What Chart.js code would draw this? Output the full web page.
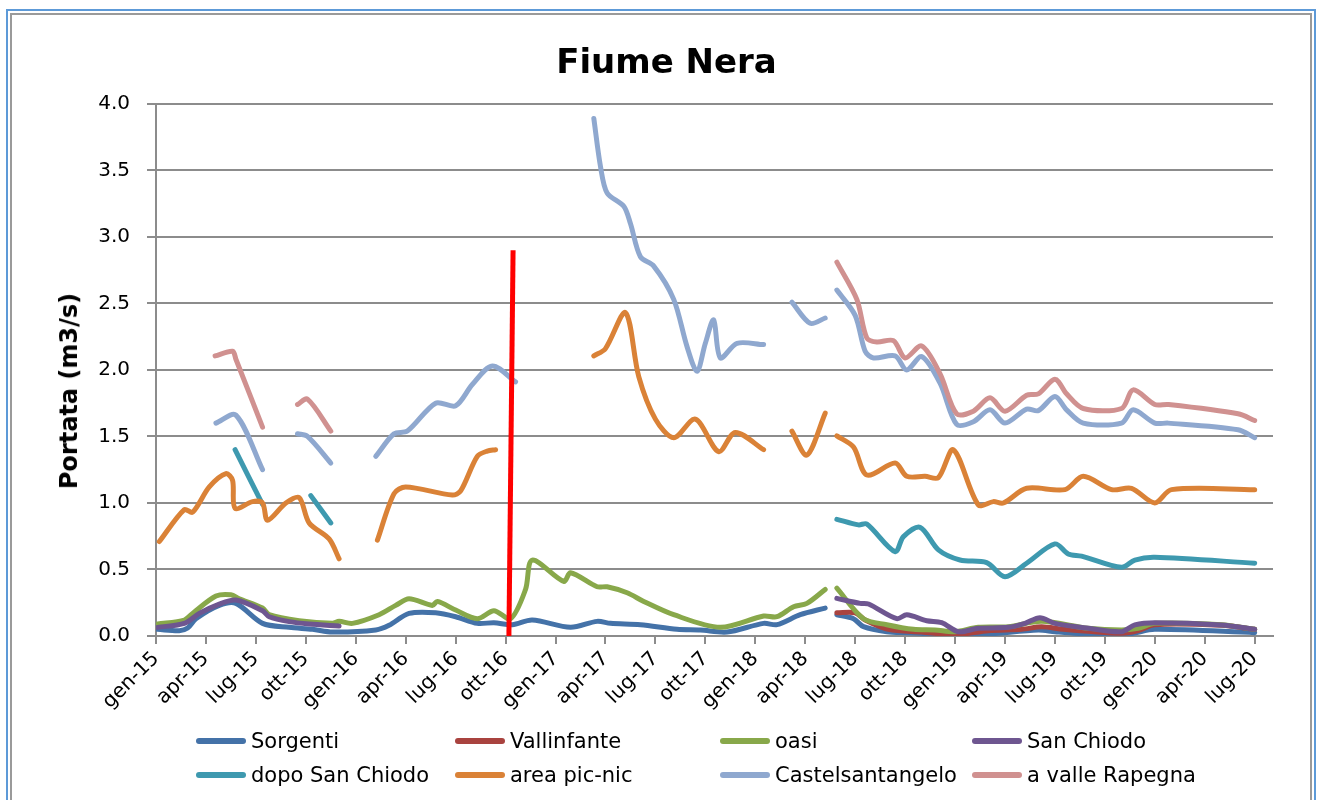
<!DOCTYPE html>
<html lang="it">
<head>
<meta charset="utf-8">
<title>Fiume Nera</title>
<script src="https://cdn.jsdelivr.net/npm/chart.js@4.4.1/dist/chart.umd.min.js"></script>
<style>
    html, body { margin: 0; padding: 0; background: #fff; }
    body { width: 1320px; height: 800px; position: relative; overflow: hidden; font-family: 'DejaVu Sans', sans-serif; }
    .frame-outer { position: absolute; left: 6px; top: 9px; width: 1310px; height: 820px; border: 2px solid #5d9ad8; box-sizing: border-box; }
    .frame-inner { position: absolute; left: 10px; top: 13px; width: 1302px; height: 820px; border: 2px solid #9a9a9a; box-sizing: border-box; }
    #chart { position: absolute; left: 0; top: 0; }
    .y-title { position: absolute; left: 69px; top: 391px; transform: translate(-50%, -50%) rotate(-90deg); font-size: 24px; font-weight: bold; white-space: nowrap; color: #000; }
    .legend-item { position: absolute; display: flex; align-items: center; height: 30px; font-size: 21px; color: #000; white-space: nowrap; }
    .legend-item i { display: block; width: 50px; height: 6px; border-radius: 3px; margin-right: 5px; }
</style>
</head>
<body>
<div class="frame-outer"></div>
<div class="frame-inner"></div>
<canvas id="chart" width="1320" height="800"></canvas>
<div class="y-title">Portata (m3/s)</div>
<div id="legend"></div>

<script>
/* DATA — x = months since gen-15, y = portata (m3/s), null = no measurement */

const tickLabels = ['gen-15', 'apr-15', 'lug-15', 'ott-15', 'gen-16', 'apr-16', 'lug-16', 'ott-16',
    'gen-17', 'apr-17', 'lug-17', 'ott-17', 'gen-18', 'apr-18', 'lug-18', 'ott-18',
    'gen-19', 'apr-19', 'lug-19', 'ott-19', 'gen-20', 'apr-20', 'lug-20']

const sorgenti = [
    [0.1, 0.05], [1.4, 0.04], [1.9, 0.06], [2.4, 0.13], [3.8, 0.23], [4.8, 0.245], [6.4, 0.095],
    [8.0, 0.065], [9.4, 0.05], [10.6, 0.03], [13.2, 0.045], [14.0, 0.08], [15.2, 0.17], [16.8, 0.175],
    [18.0, 0.145], [19.3, 0.095], [20.3, 0.1], [21.4, 0.085], [22.6, 0.12], [24.9, 0.065], [26.5, 0.11],
    [27.3, 0.095], [29.1, 0.085], [31.3, 0.05], [32.7, 0.045], [34.3, 0.03], [36.5, 0.095], [37.3, 0.085],
    [38.7, 0.16], [40.2, 0.21], [40.5, null],
    [40.9, 0.16], [41.9, 0.13], [42.5, 0.07], [43.9, 0.032], [45.2, 0.025], [46.6, 0.015], [48.0, 0.008],
    [50.0, 0.015], [53.0, 0.045], [54.0, 0.032], [56.0, 0.015], [58.4, 0.015], [60.0, 0.05], [66.0, 0.025]
]

const vallinfante = [
    [40.9, 0.175], [42.0, 0.175], [42.6, 0.12], [44.0, 0.05], [46.0, 0.03], [48.0, 0.01], [50.0, 0.04],
    [52.0, 0.05], [53.2, 0.07], [54.5, 0.05], [56.0, 0.035], [58.0, 0.02], [59.0, 0.04], [60.0, 0.085],
    [64.0, 0.08], [66.0, 0.05]
]

const oasi = [
    [0.1, 0.09], [1.7, 0.12], [2.2, 0.17], [3.6, 0.3], [4.5, 0.31], [5.0, 0.28], [6.4, 0.21], [6.8, 0.16],
    [8.6, 0.115], [10.6, 0.095], [11.0, 0.11], [11.8, 0.095], [13.4, 0.16], [14.4, 0.23], [15.2, 0.28],
    [16.6, 0.23], [16.9, 0.26], [18.0, 0.195], [19.3, 0.13], [20.3, 0.19], [21.3, 0.13], [22.2, 0.35],
    [22.6, 0.57], [24.5, 0.41], [24.9, 0.475], [26.5, 0.37], [27.1, 0.37], [28.3, 0.325], [29.3, 0.26],
    [31.1, 0.16], [33.9, 0.065], [36.5, 0.15], [37.3, 0.145], [38.3, 0.22], [39.1, 0.245], [40.2, 0.35],
    [40.5, null],
    [40.9, 0.36], [42.5, 0.13], [43.9, 0.085], [45.5, 0.05], [46.8, 0.045], [48.0, 0.032], [49.4, 0.065],
    [51.2, 0.07], [53.2, 0.11], [56.0, 0.058], [58.0, 0.045], [59.0, 0.058], [60.0, 0.095], [64.0, 0.085],
    [66.0, 0.05]
]

const sanChiodo = [
    [0.1, 0.065], [1.7, 0.095], [2.6, 0.17], [3.8, 0.24], [4.8, 0.27], [6.4, 0.19], [6.8, 0.145],
    [8.0, 0.108], [9.2, 0.09], [11.0, 0.075], [12.0, null],
    [40.9, 0.283], [42.3, 0.245], [42.8, 0.24], [44.5, 0.13], [45.1, 0.16], [46.3, 0.115], [47.2, 0.1],
    [48.2, 0.032], [49.4, 0.058], [51.2, 0.065], [52.2, 0.095], [53.1, 0.138], [54.0, 0.095], [56.0, 0.058],
    [58.0, 0.032], [58.8, 0.083], [60.0, 0.1], [64.0, 0.083], [66.0, 0.05]
]

const dopoSanChiodo = [
    [4.75, 1.4], [6.4, 0.99], [8.0, null],
    [9.3, 1.055], [10.5, 0.85], [12.0, null],
    [40.9, 0.877], [42.2, 0.835], [42.7, 0.842], [44.4, 0.634], [44.9, 0.747], [45.9, 0.817], [47.0, 0.647],
    [48.3, 0.571], [49.9, 0.551], [51.0, 0.446], [52.3, 0.547], [54.0, 0.692], [54.8, 0.617], [55.6, 0.6],
    [58.0, 0.516], [58.8, 0.571], [60.0, 0.592], [66.0, 0.547]
]

const areaPicNic = [
    [0.2, 0.71], [1.7, 0.95], [2.2, 0.93], [3.2, 1.12], [4.2, 1.22], [4.6, 1.17], [4.75, 0.96], [5.8, 1.01],
    [6.4, 1.0], [6.7, 0.87], [7.8, 1.0], [8.6, 1.04], [9.2, 0.85], [10.4, 0.73], [11.0, 0.58], [12.0, null],
    [13.3, 0.72], [14.3, 1.07], [15.0, 1.12], [17.8, 1.06], [18.3, 1.09], [19.3, 1.35], [19.9, 1.39],
    [20.4, 1.4], [23.0, null],
    [26.3, 2.105], [27.0, 2.16], [28.2, 2.43], [29.0, 1.95], [30.0, 1.63], [31.1, 1.49], [32.4, 1.63],
    [33.8, 1.386], [34.8, 1.53], [36.5, 1.4], [37.3, null],
    [38.2, 1.54], [39.1, 1.36], [40.2, 1.675], [40.5, null],
    [40.9, 1.504], [41.9, 1.42], [42.7, 1.21], [44.4, 1.3], [45.1, 1.2], [46.2, 1.2], [47.0, 1.19],
    [47.9, 1.4], [49.4, 0.985], [50.3, 1.01], [50.9, 1.0], [52.3, 1.11], [54.6, 1.1], [55.7, 1.2],
    [57.4, 1.1], [58.6, 1.11], [60.0, 1.0], [61.0, 1.1], [66.0, 1.1]
]

const castelsantangelo = [
    [3.6, 1.6], [4.8, 1.66], [6.4, 1.25], [7.5, null],
    [8.5, 1.52], [9.1, 1.5], [10.5, 1.3], [12.0, null],
    [13.2, 1.35], [14.3, 1.52], [15.1, 1.54], [16.8, 1.75], [18.0, 1.73], [19.0, 1.89], [20.2, 2.03],
    [21.6, 1.91], [23.0, null],
    [26.3, 3.89], [26.7, 3.53], [27.1, 3.33], [28.1, 3.23], [28.5, 3.1], [29.1, 2.85], [29.9, 2.78],
    [31.1, 2.53], [31.9, 2.175], [32.5, 1.99], [33.0, 2.2], [33.5, 2.376], [33.9, 2.09], [34.9, 2.2],
    [36.5, 2.19], [37.3, null],
    [38.2, 2.51], [39.3, 2.35], [40.2, 2.39], [40.5, null],
    [40.9, 2.6], [42.0, 2.41], [42.6, 2.14], [43.1, 2.09], [44.4, 2.105], [45.1, 2.0], [46.0, 2.1],
    [47.1, 1.9], [48.1, 1.59], [49.1, 1.61], [50.1, 1.7], [51.0, 1.6], [52.3, 1.705], [53.0, 1.694],
    [54.0, 1.8], [54.7, 1.7], [55.7, 1.6], [58.0, 1.6], [58.7, 1.7], [60.0, 1.6], [60.8, 1.6],
    [65.0, 1.55], [66.0, 1.49]
]

const valleRapegna = [
    [3.55, 2.105], [4.6, 2.14], [4.8, 2.08], [6.4, 1.57], [7.5, null],
    [8.5, 1.74], [9.1, 1.78], [10.5, 1.54], [12.0, null],
    [40.9, 2.81], [42.1, 2.53], [42.7, 2.24], [43.3, 2.21], [44.3, 2.22], [45.0, 2.09], [46.0, 2.18],
    [47.1, 1.97], [48.1, 1.67], [49.1, 1.69], [50.1, 1.79], [51.0, 1.69], [52.3, 1.81], [53.0, 1.82],
    [54.0, 1.93], [54.7, 1.82], [55.7, 1.71], [58.0, 1.71], [58.7, 1.85], [60.0, 1.74], [60.8, 1.74],
    [65.0, 1.67], [66.0, 1.62]
]

// red marker line (sisma, ott-16)
const sismaLine = [[21.2, 0], [21.45, 2.9]]

const seriesNames = ['Sorgenti', 'Vallinfante', 'oasi', 'San Chiodo',
    'dopo San Chiodo', 'area pic-nic', 'Castelsantangelo', 'a valle Rapegna']
const seriesData = [sorgenti, vallinfante, oasi, sanChiodo,
    dopoSanChiodo, areaPicNic, castelsantangelo, valleRapegna]

/* STYLE */

const seriesColors = ['#4472a8', '#a9433f', '#88a84a', '#6e5690',
    '#3e99af', '#da8237', '#8fa8cf', '#d09190']
const GRID = '#8c8c8c'

Chart.defaults.font.family = "'DejaVu Sans', sans-serif"
Chart.defaults.color = '#000'

const toPoints = (arr) => arr.map(([x, y]) => ({ x, y }))

/* CHART */

const datasets = seriesData.map((data, i) => ({
    label: seriesNames[i],
    data: toPoints(data),
    borderColor: seriesColors[i],
    borderWidth: 5,
    borderCapStyle: 'round',
    borderJoinStyle: 'round',
    tension: 0.3,
    pointRadius: 0,
    order: seriesNames.length - i
}))

datasets.push({
    label: 'sisma',
    data: toPoints(sismaLine),
    borderColor: '#ff0000',
    borderWidth: 5,
    tension: 0,
    pointRadius: 0,
    order: 0
})

new Chart(document.getElementById('chart'), {
    type: 'line',
    data: { datasets },
    options: {
        responsive: false,
        animation: false,
        layout: { padding: { left: 60, right: 47, top: 0, bottom: 84 } },
        plugins: {
            legend: { display: false },
            tooltip: { enabled: false },
            title: {
                display: true,
                text: 'Fiume Nera',
                font: { size: 34, weight: 'bold' },
                padding: { top: 44, bottom: 19 }
            }
        },
        scales: {
            x: {
                type: 'linear',
                min: 0,
                max: 67.1,
                afterBuildTicks: (s) => { s.ticks = tickLabels.map((_, i) => ({ value: i * 3 })) },
                afterFit: (s) => { s.height = 80 },
                ticks: {
                    autoSkip: false,
                    minRotation: 45,
                    maxRotation: 45,
                    padding: 3,
                    font: { size: 20 },
                    callback: (v) => tickLabels[Math.round(v / 3)]
                },
                grid: { drawOnChartArea: false, tickLength: 8, color: GRID, lineWidth: 2 },
                border: { color: GRID, width: 2 }
            },
            y: {
                min: 0,
                max: 4,
                afterFit: (s) => { s.width = 96 },
                ticks: {
                    stepSize: 0.5,
                    padding: 17,
                    font: { size: 20 },
                    callback: (v) => v.toFixed(1)
                },
                grid: { tickLength: 9, color: GRID, lineWidth: 2 },
                border: { color: GRID, width: 2 }
            }
        }
    }
})

/* LEGEND — 4 columns, 2 rows like the original */

const legendCols = [196, 455, 720, 972]
const legendRows = [726, 760]
const legendEl = document.getElementById('legend')
seriesNames.forEach((name, i) => {
    const item = document.createElement('div')
    item.className = 'legend-item'
    item.style.left = legendCols[i % 4] + 'px'
    item.style.top = legendRows[Math.floor(i / 4)] + 'px'
    item.innerHTML = `<i style="background:${seriesColors[i]}"></i><span>${name}</span>`
    legendEl.appendChild(item)
})
</script>
</body>
</html>
